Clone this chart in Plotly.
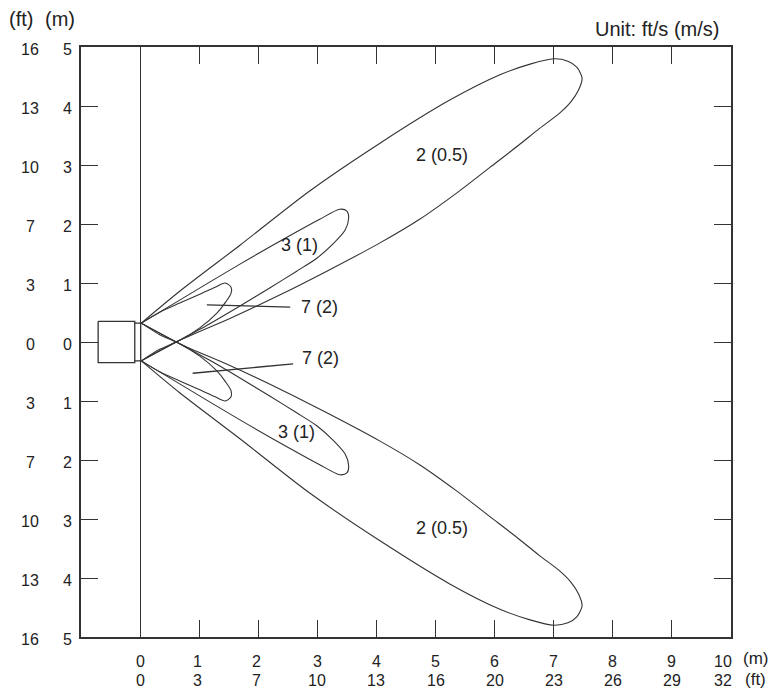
import plotly.graph_objects as go

# ---------------- data ----------------
X_RANGE = [-1, 10]
Y_RANGE = [-5, 5]

X_TICK_VALS = [0, 1, 2, 3, 4, 5, 6, 7, 8, 9, 10]
X_LABELS_M = ["0", "1", "2", "3", "4", "5", "6", "7", "8", "9", "10"]
X_LABELS_FT = ["0", "3", "7", "10", "13", "16", "20", "23", "26", "29", "32"]

Y_TICK_VALS = [5, 4, 3, 2, 1, 0, -1, -2, -3, -4, -5]
Y_LABELS_M = ["5", "4", "3", "2", "1", "0", "1", "2", "3", "4", "5"]
Y_LABELS_FT = ["16", "13", "10", "7", "3", "0", "3", "7", "10", "13", "16"]

# detection lobes (m), upper half
LOBE_05_UP_X = [0.02, 0.67, 1.69, 2.87, 4.06, 5.24, 6.09, 6.60, 7.00, 7.24, 7.39, 7.48, 7.42,
                7.29, 7.10, 6.76, 6.40, 5.92, 5.35, 4.73, 4.06, 3.16, 2.37, 1.52, 0.67, 0.02]
LOBE_05_UP_Y = [0.32, 0.86, 1.64, 2.56, 3.37, 4.10, 4.53, 4.71, 4.80, 4.76, 4.66, 4.47, 4.27,
                4.07, 3.88, 3.62, 3.33, 2.96, 2.52, 2.08, 1.68, 1.20, 0.80, 0.40, 0.03, -0.32]
LOBE_1_UP_X = [0.02, 0.67, 1.69, 2.53, 3.04, 3.38, 3.50, 3.53, 3.47, 3.26, 2.99, 2.65, 2.20,
               1.69, 1.18, 0.67, 0.02]
LOBE_1_UP_Y = [0.32, 0.71, 1.32, 1.80, 2.08, 2.25, 2.22, 2.10, 1.90, 1.66, 1.42, 1.20, 0.92,
               0.61, 0.31, 0.03, -0.32]
LOBE_2_UP_X = [0.02, 0.34, 0.67, 1.01, 1.27, 1.44, 1.54, 1.54, 1.45, 1.30, 1.01, 0.67, 0.34, 0.02]
LOBE_2_UP_Y = [0.32, 0.51, 0.66, 0.81, 0.93, 1.00, 0.93, 0.83, 0.68, 0.49, 0.24, 0.03, -0.12, -0.32]

# lower half
LOBE_05_LO_X = [0.02, 0.67, 1.69, 2.87, 4.06, 5.24, 6.09, 6.60, 7.00, 7.24, 7.39, 7.48, 7.42,
                7.29, 7.10, 6.76, 6.40, 5.92, 5.35, 4.73, 4.06, 3.16, 2.37, 1.52, 0.67, 0.02]
LOBE_05_LO_Y = [-0.32, -0.86, -1.64, -2.56, -3.37, -4.10, -4.53, -4.71, -4.80, -4.76, -4.66, -4.47, -4.27,
                -4.07, -3.88, -3.62, -3.33, -2.96, -2.52, -2.08, -1.68, -1.20, -0.80, -0.40, -0.03, 0.32]
LOBE_1_LO_X = [0.02, 0.67, 1.69, 2.53, 3.04, 3.38, 3.50, 3.53, 3.47, 3.26, 2.99, 2.65, 2.20,
               1.69, 1.18, 0.67, 0.02]
LOBE_1_LO_Y = [-0.32, -0.71, -1.32, -1.80, -2.08, -2.25, -2.22, -2.10, -1.90, -1.66, -1.42, -1.20, -0.92,
               -0.61, -0.31, -0.03, 0.32]
LOBE_2_LO_X = [0.02, 0.34, 0.67, 1.01, 1.27, 1.44, 1.54, 1.54, 1.45, 1.30, 1.01, 0.67, 0.34, 0.02]
LOBE_2_LO_Y = [-0.32, -0.51, -0.66, -0.81, -0.93, -1.00, -0.93, -0.83, -0.68, -0.49, -0.24, -0.03, 0.12, 0.32]

# sensor
SENSOR_BODY_X = [-0.71, -0.09, -0.09, -0.71, -0.71]
SENSOR_BODY_Y = [0.35, 0.35, -0.35, -0.35, 0.35]
SENSOR_FACE_X = [-0.09, 0.01, 0.01, -0.09]
SENSOR_FACE_Y = [0.32, 0.32, -0.32, -0.32]

# labels
LOBE_LABELS = ["2 (0.5)", "3 (1)", "7 (2)", "7 (2)", "3 (1)", "2 (0.5)"]
LOBE_LABEL_X = [5.11, 2.69, 3.04, 3.06, 2.64, 5.11]
LOBE_LABEL_Y = [3.17, 1.64, 0.59, -0.27, -1.53, -3.15]
LEADER_UP_X = [1.13, 2.54]
LEADER_UP_Y = [0.63, 0.59]
LEADER_LO_X = [0.89, 2.59]
LEADER_LO_Y = [-0.53, -0.37]

# ---------------- figure ----------------
LINE_COLOR = "#333333"
TEXT_COLOR = "#222222"
FONT = "Liberation Sans, Arial, sans-serif"

fig = go.Figure()


def add_line(xs, ys, width=1.1, shape="spline"):
    line = dict(color=LINE_COLOR, width=width, shape=shape)
    if shape == "spline":
        line["smoothing"] = 0.8
    fig.add_trace(go.Scatter(x=xs, y=ys, mode="lines", line=line,
                             hoverinfo="skip", showlegend=False))


for xs, ys in [(LOBE_05_UP_X, LOBE_05_UP_Y), (LOBE_1_UP_X, LOBE_1_UP_Y), (LOBE_2_UP_X, LOBE_2_UP_Y),
               (LOBE_05_LO_X, LOBE_05_LO_Y), (LOBE_1_LO_X, LOBE_1_LO_Y), (LOBE_2_LO_X, LOBE_2_LO_Y)]:
    add_line(xs, ys)

add_line(SENSOR_BODY_X, SENSOR_BODY_Y, width=1.3, shape="linear")
add_line(SENSOR_FACE_X, SENSOR_FACE_Y, width=1.3, shape="linear")
add_line(LEADER_UP_X, LEADER_UP_Y, width=1.3, shape="linear")
add_line(LEADER_LO_X, LEADER_LO_Y, width=1.3, shape="linear")

annotations = []
for t, x, y in zip(LOBE_LABELS, LOBE_LABEL_X, LOBE_LABEL_Y):
    annotations.append(dict(x=x, y=y, xref="x", yref="y", text=t, showarrow=False,
                            font=dict(size=18, color=TEXT_COLOR, family=FONT)))

tick_font = dict(size=16, color=TEXT_COLOR, family=FONT)

# bottom tick labels (two rows: m, ft)
for v, m, ft in zip(X_TICK_VALS, X_LABELS_M, X_LABELS_FT):
    xs = -8 if v == 10 else (-2 if v in (1, 2) else 0)
    annotations.append(dict(x=v, y=0, xref="x", yref="paper", text=m, showarrow=False,
                            yanchor="middle", yshift=-24, xshift=xs, font=tick_font))
    annotations.append(dict(x=v, y=0, xref="x", yref="paper", text=ft, showarrow=False,
                            yanchor="middle", yshift=-43, xshift=xs, font=tick_font))

# left tick labels (two columns: ft, m)
for v, m, ft in zip(Y_TICK_VALS, Y_LABELS_M, Y_LABELS_FT):
    annotations.append(dict(x=0, y=v, xref="paper", yref="y", text=m, showarrow=False,
                            xanchor="center", yanchor="middle", xshift=-14, yshift=-2,
                            font=tick_font))
    annotations.append(dict(x=0, y=v, xref="paper", yref="y", text=ft, showarrow=False,
                            xanchor="center", yanchor="middle", xshift=-51, yshift=-2,
                            font=tick_font))

# unit labels
unit_font = dict(size=20, color=TEXT_COLOR, family=FONT)
corner_font = dict(size=17, color=TEXT_COLOR, family=FONT)
annotations += [
    dict(x=0, y=1, xref="paper", yref="paper", text="(ft)", showarrow=False,
         xanchor="center", yanchor="middle", xshift=-60, yshift=28, font=unit_font),
    dict(x=0, y=1, xref="paper", yref="paper", text="(m)", showarrow=False,
         xanchor="center", yanchor="middle", xshift=-21, yshift=28, font=unit_font),
    dict(x=1, y=1, xref="paper", yref="paper", text="Unit: ft/s (m/s)", showarrow=False,
         xanchor="right", yanchor="middle", xshift=-10, yshift=18, font=unit_font),
    dict(x=1, y=0, xref="paper", yref="paper", text="(m)", showarrow=False,
         xanchor="right", yanchor="middle", xshift=39, yshift=-21, font=corner_font),
    dict(x=1, y=0, xref="paper", yref="paper", text="(ft)", showarrow=False,
         xanchor="right", yanchor="middle", xshift=37, yshift=-42, font=corner_font),
]

axis_common = dict(showgrid=False, showline=True, linecolor=LINE_COLOR, linewidth=1.6,
                   mirror="ticks", ticks="inside", ticklen=17, tickwidth=1.3,
                   tickcolor=LINE_COLOR, showticklabels=False)

# page body has an 8px margin, so the figure is sized/offset to compensate
fig.update_layout(
    width=772, height=682,
    margin=dict(l=73, r=49, t=39, b=53),
    paper_bgcolor="white", plot_bgcolor="white",
    xaxis=dict(range=X_RANGE, tickvals=X_TICK_VALS[1:-1], zeroline=True,
               zerolinecolor=LINE_COLOR, zerolinewidth=1.4, **axis_common),
    yaxis=dict(range=Y_RANGE, tickvals=Y_TICK_VALS[1:-1], zeroline=False, **axis_common),
    annotations=annotations,
    font=dict(family=FONT, color=TEXT_COLOR),
)

fig.write_html("out.html")
